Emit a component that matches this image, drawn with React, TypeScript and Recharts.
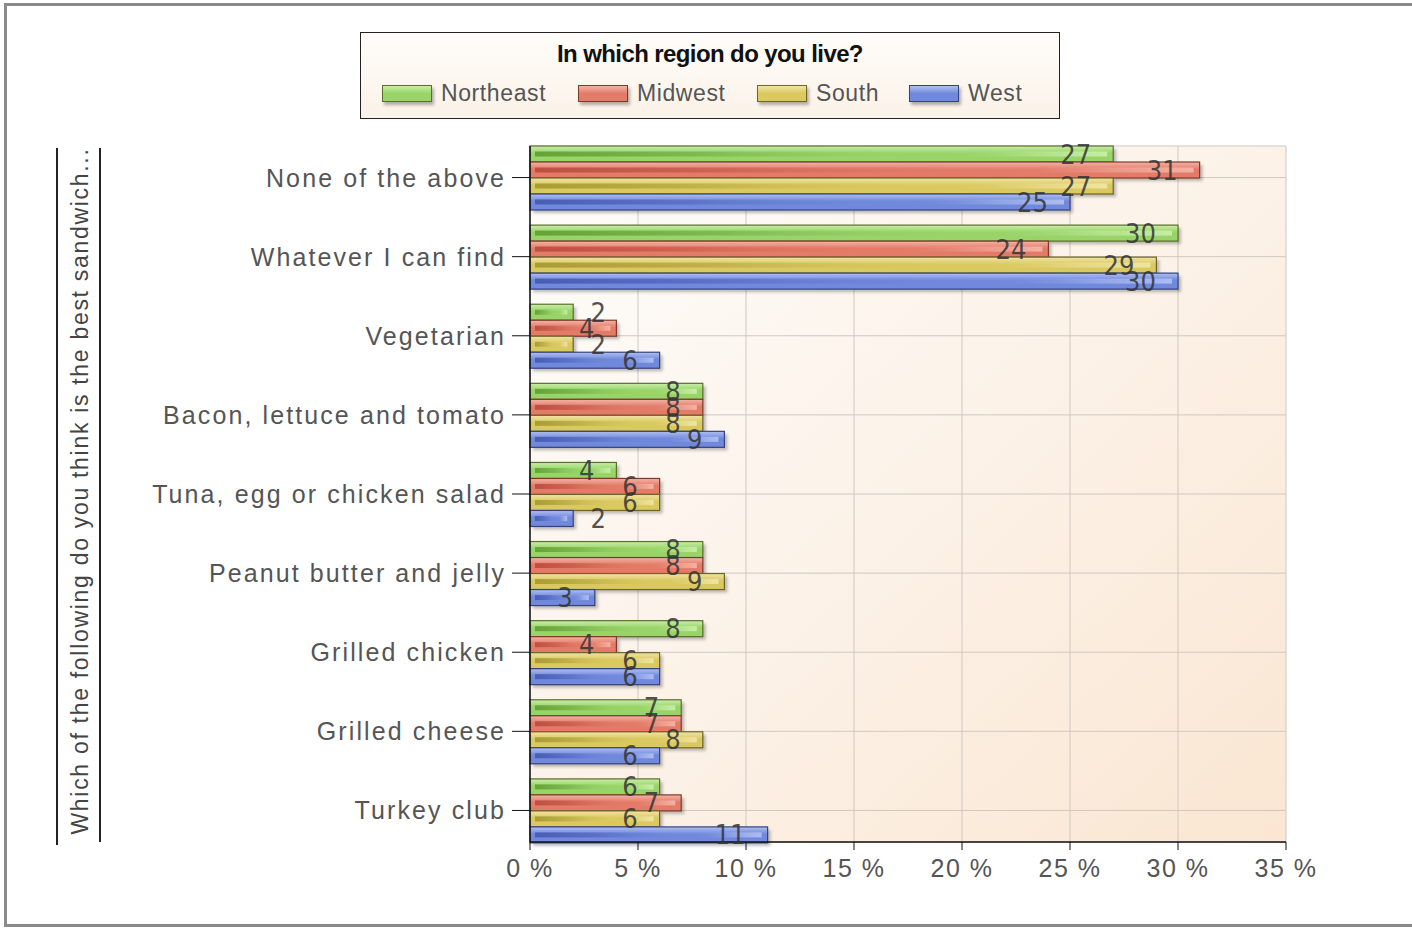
import React from 'react';
import { BarChart, Bar, XAxis, YAxis, CartesianGrid, LabelList } from 'recharts';

// survey answers, % of respondents per region
const categories = [
  'None of the above',
  'Whatever I can find',
  'Vegetarian',
  'Bacon, lettuce and tomato',
  'Tuna, egg or chicken salad',
  'Peanut butter and jelly',
  'Grilled chicken',
  'Grilled cheese',
  'Turkey club',
];
const northeast = [27, 30, 2, 8, 4, 8, 8, 7, 6];
const midwest = [31, 24, 4, 8, 6, 8, 4, 7, 7];
const south = [27, 29, 2, 8, 6, 9, 6, 8, 6];
const west = [25, 30, 6, 9, 2, 3, 6, 6, 11];
const xTicks = [0, 5, 10, 15, 20, 25, 30, 35];
const regions = ['Northeast', 'Midwest', 'South', 'West'];

const legendTitle = 'In which region do you live?';
const axisTitle = 'Which of the following do you think is the best sandwich...';

const data = categories.map((name, i) => ({
  name,
  Northeast: northeast[i],
  Midwest: midwest[i],
  South: south[i],
  West: west[i],
}));

const palette: Record<string, { base: string; light: string; dark: string; border: string }> = {
  Northeast: { base: '#98d468', light: '#c9eea8', dark: '#5f9e34', border: '#5b6e2c' },
  Midwest: { base: '#e37b68', light: '#f5b4a6', dark: '#b94a3c', border: '#7e3a2c' },
  South: { base: '#dac95f', light: '#f0e5a6', dark: '#a49731', border: '#6f6529' },
  West: { base: '#7189dc', light: '#b0bff2', dark: '#4359b0', border: '#34427e' },
};

const FONT = "'Liberation Sans', Arial, sans-serif";
const NARROW = "'Liberation Sans Narrow', 'DejaVu Sans Condensed', 'Liberation Sans', sans-serif";

const makeShape = (key: string) => (props: any) => {
  const { x, y, width, height } = props;
  if (!width || width <= 0) return <g />;
  const c = palette[key];
  return (
    <g>
      <rect x={x + 3} y={y + 3} width={width} height={height} fill="#000" opacity={0.25} filter="url(#barBlur)" />
      <rect x={x} y={y} width={width} height={height} fill={`url(#body-${key})`} stroke={c.border} strokeWidth={1.2} />
      <rect x={x + 5} y={y + height / 2 - 2.5} width={Math.max(0, width - 11)} height={5} fill={`url(#stripe-${key})`} />
    </g>
  );
};

const ValueLabel = (props: any) => {
  const { x, y, width, height, value } = props;
  const small = value <= 2;
  const tx = small ? x + width + 25 : x + width - 22;
  return (
    <text
      x={tx}
      y={y + height / 2}
      textAnchor={small ? 'middle' : 'end'}
      dominantBaseline="central"
      fontFamily={NARROW}
      fontSize={27}
      fill="#333"
      fillOpacity={0.85}
    >
      {value}
    </text>
  );
};

const YTick = (props: any) => {
  const { x, y, payload } = props;
  return (
    <text x={x} y={y} textAnchor="end" dominantBaseline="central" fontFamily={FONT} fontSize={25} fill="#555" letterSpacing={2.1}>
      {payload.value}
    </text>
  );
};

const XTick = (props: any) => {
  const { x, y, payload } = props;
  return (
    <text x={x} y={y} dy="0.75em" textAnchor="middle" fontFamily={FONT} fontSize={25} fill="#555" letterSpacing={1.5}>
      {`${payload.value} %`}
    </text>
  );
};

const AxisTitle = () => (
  <g>
    <line x1={57} y1={148} x2={57} y2={845} stroke="#222" strokeWidth={2} />
    <line x1={100} y1={148} x2={100} y2={842} stroke="#222" strokeWidth={2} />
    <text
      x={80}
      y={491}
      transform="rotate(-90 80 491)"
      textAnchor="middle"
      dominantBaseline="central"
      fontFamily={FONT}
      fontSize={23}
      fill="#444"
      letterSpacing={1.7}
    >
      {axisTitle}
    </text>
  </g>
);

function LegendBox() {
  return (
    <div
      style={{
        position: 'absolute',
        left: 360,
        top: 32,
        width: 700,
        height: 87,
        border: '1px solid #222',
        background: 'linear-gradient(180deg, #fffdfa 0%, #fbf2e8 100%)',
        fontFamily: FONT,
        boxSizing: 'border-box',
      }}
    >
      <div
        style={{
          position: 'absolute',
          top: 7,
          left: 0,
          right: 0,
          textAlign: 'center',
          fontWeight: 'bold',
          fontSize: 24,
          letterSpacing: -0.6,
          color: '#111',
        }}
      >
        {legendTitle}
      </div>
      {regions.map((r, i) => {
        const lefts = [21, 217, 396, 548];
        const c = palette[r];
        return (
          <div key={r} style={{ position: 'absolute', top: 47, left: lefts[i], display: 'flex', alignItems: 'center' }}>
            <div
              style={{
                width: 50,
                height: 17,
                background: `linear-gradient(180deg, ${c.light} 0%, ${c.base} 50%, ${c.base} 100%)`,
                border: `1px solid ${c.border}`,
                boxShadow: '2px 3px 3px rgba(0,0,0,0.3)',
                boxSizing: 'border-box',
              }}
            />
            <span style={{ marginLeft: 9, fontSize: 23, color: '#555', letterSpacing: 0.6 }}>{r}</span>
          </div>
        );
      })}
    </div>
  );
}

export default function App() {
  return (
    <div style={{ position: 'absolute', left: 0, top: 0, width: 1412, height: 930, background: '#fff', overflow: 'hidden' }}>
      <div
        style={{
          position: 'absolute',
          left: 4,
          top: 3,
          width: 1430,
          height: 924,
          border: '3px solid #8a8a8a',
          boxSizing: 'border-box',
        }}
      />
      <div style={{ position: 'absolute', left: 0, top: 0 }}>
        <BarChart
          width={1412}
          height={930}
          data={data}
          layout="vertical"
          margin={{ top: 146, right: 126, bottom: 48, left: 0 }}
          barSize={16}
          barGap={0}
        >
          <defs>
            <linearGradient id="plotBg" x1="0" y1="0" x2="1" y2="1">
              <stop offset="0%" stopColor="#fefdfb" />
              <stop offset="45%" stopColor="#fcf3ea" />
              <stop offset="100%" stopColor="#fae6d2" />
            </linearGradient>
            <filter id="barBlur" x="-10%" y="-50%" width="120%" height="200%">
              <feGaussianBlur stdDeviation="1.5" />
            </filter>
            {regions.map((r) => {
              const c = palette[r];
              return (
                <React.Fragment key={r}>
                  <linearGradient id={`body-${r}`} x1="0" y1="0" x2="0" y2="1">
                    <stop offset="0%" stopColor={c.light} />
                    <stop offset="45%" stopColor={c.base} />
                    <stop offset="100%" stopColor={c.base} />
                  </linearGradient>
                  <linearGradient id={`stripe-${r}`} x1="0" y1="0" x2="1" y2="0">
                    <stop offset="0%" stopColor={c.dark} stopOpacity={0.9} />
                    <stop offset="30%" stopColor={c.dark} stopOpacity={0.45} />
                    <stop offset="70%" stopColor={c.base} stopOpacity={0} />
                    <stop offset="88%" stopColor={c.light} stopOpacity={0.5} />
                    <stop offset="100%" stopColor={c.light} stopOpacity={0.95} />
                  </linearGradient>
                </React.Fragment>
              );
            })}
          </defs>
          <CartesianGrid stroke="#cfc8c2" strokeWidth={1} fill="url(#plotBg)" fillOpacity={1} />
          <XAxis
            type="number"
            domain={[0, 35]}
            ticks={xTicks}
            interval={0}
            height={40}
            tickSize={8}
            tickMargin={8}
            tick={<XTick />}
            axisLine={{ stroke: '#111', strokeWidth: 1.5 }}
            tickLine={{ stroke: '#111' }}
          />
          <YAxis
            type="category"
            dataKey="name"
            width={530}
            padding={{ top: -8, bottom: -8 }}
            tickSize={18}
            tickMargin={6}
            tick={<YTick />}
            axisLine={{ stroke: '#111', strokeWidth: 1.5 }}
            tickLine={{ stroke: '#111' }}
            label={{ content: () => <AxisTitle /> }}
          />
          {regions.map((r) => (
            <Bar key={r} dataKey={r} isAnimationActive={false} shape={makeShape(r)}>
              <LabelList dataKey={r} content={<ValueLabel />} />
            </Bar>
          ))}
        </BarChart>
      </div>
      <LegendBox />
    </div>
  );
}
